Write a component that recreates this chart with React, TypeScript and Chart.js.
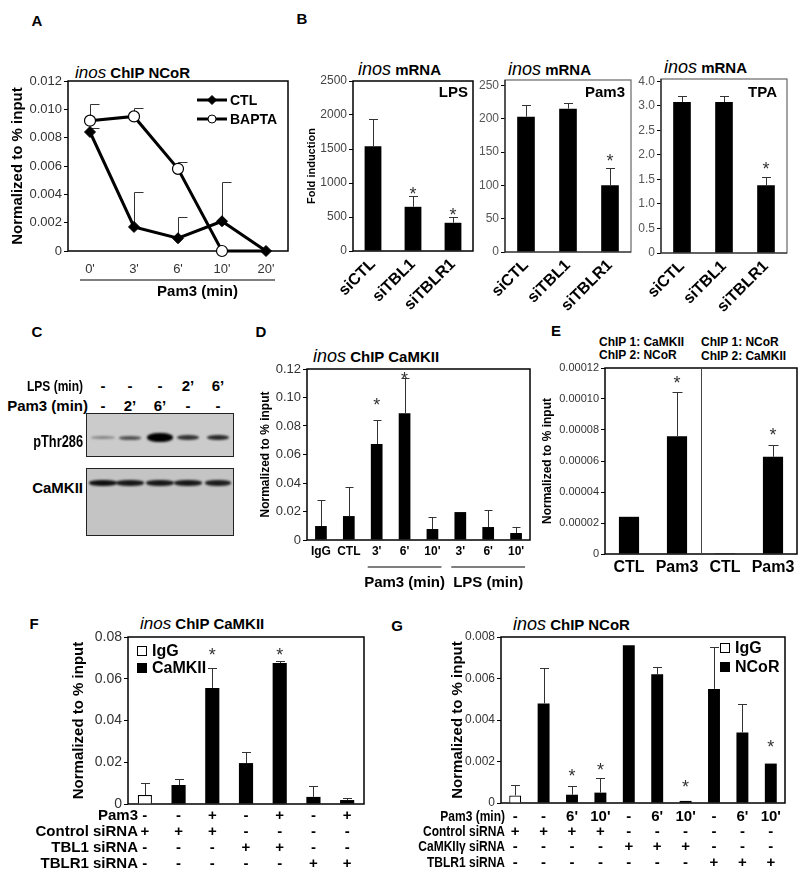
import React, { useEffect, useRef } from 'react';
import { Chart, registerables } from 'chart.js';

Chart.register(...registerables);

const FONT = '"Liberation Sans", Arial, Helvetica, sans-serif';

/* ================= DATA ================= */
const yTitleNorm = 'Normalized to % input';

// Panel A
const aTimes = ["0'", "3'", "6'", "10'", "20'"];
const aSeries = ['CTL', 'BAPTA'];
const aCTL = [0.0084, 0.0017, 0.0009, 0.0021, 0];
const aCTLErr = [0.0087, 0.0042, 0.0024, 0.0049, null];
const aBAPTA = [0.0092, 0.0095, 0.0058, 0, 0];
const aBAPTAErr = [0.0104, 0.0101, 0.0063, null, null];
const aYTicks = [0, 0.002, 0.004, 0.006, 0.008, 0.01, 0.012];
const aYTickLabels = ['0', '0.002', '0.004', '0.006', '0.008', '0.010', '0.012'];
const aXTitle = 'Pam3 (min)';

// Panel B
const bGroups = ['siCTL', 'siTBL1', 'siTBLR1'];
const bTags = ['LPS', 'Pam3', 'TPA'];
const bYTitle = 'Fold induction';
const bLPS = [1540, 650, 415];
const bLPSErr = [1940, 805, 500];
const bLPSStar = [null, 900, 585];
const bLPSTicks = [0, 500, 1000, 1500, 2000, 2500];
const bLPSTickLabels = ['0', '500', '1000', '1500', '2000', '2500'];
const bPam3 = [203, 215, 100];
const bPam3Err = [221, 223, 126];
const bPam3Star = [null, null, 143];
const bPam3Ticks = [0, 50, 100, 150, 200, 250];
const bPam3TickLabels = ['0', '50', '100', '150', '200', '250'];
const bTPA = [3.08, 3.08, 1.38];
const bTPAErr = [3.2, 3.2, 1.55];
const bTPAStar = [null, null, 1.8];
const bTPATicks = [0, 0.5, 1, 1.5, 2, 2.5, 3, 3.5];
const bTPATickLabels = ['0', '0.5', '1.0', '1.5', '2.0', '2.5', '3.0', '4.0'];

// Panel C (western blot)
const cRowLabels = ['LPS (min)', 'Pam3 (min)'];
const cLPS = ['-', '-', '-', '2’', '6’'];
const cPam3 = ['-', '2’', '6’', '-', '-'];
const cBlotLabels = ['pThr286', 'CaMKII'];
const cPThrIntensity = [0.35, 0.6, 1, 0.75, 0.8];
const cCaMKIIIntensity = [0.92, 0.88, 0.88, 0.88, 0.85];

// Panel D
const dLabels = ['IgG', 'CTL', "3'", "6'", "10'", "3'", "6'", "10'"];
const dValues = [0.0098, 0.0168, 0.0674, 0.089, 0.0077, 0.0196, 0.0091, 0.0049];
const dErr = [0.028, 0.037, 0.084, 0.1137, 0.0161, null, 0.021, 0.009];
const dStar = [null, null, 0.098, 0.116, null, null, null, null];
const dYTicks = [0, 0.02, 0.04, 0.06, 0.08, 0.1, 0.12];
const dYTickLabels = ['0', '0.02', '0.04', '0.06', '0.08', '0.10', '0.12'];
const dGroupLabels = ['Pam3 (min)', 'LPS (min)'];
const dGroupSpans = [[2, 4], [5, 7]];

// Panel E
const eLabels = ['CTL', 'Pam3', 'CTL', 'Pam3'];
const eHeaders = [['ChIP 1: CaMKII', 'ChIP 2: NCoR'], ['ChIP 1: NCoR', 'ChIP 2: CaMKII']];
const eValues = [0.000024, 0.000076, 0.0000005, 0.0000627];
const eErr = [null, 0.0001044, null, 0.0000703];
const eStar = [null, 0.000113, null, 0.0000796];
const eYTicks = [0, 0.00002, 0.00004, 0.00006, 0.00008, 0.0001, 0.00012];
const eYTickLabels = ['0', '0.00002', '0.00004', '0.00006', '0.00008', '0.00010', '0.00012'];

// Panel F
const fSeries = ['IgG', 'CaMKII'];
const fRowLabels = ['Pam3', 'Control siRNA', 'TBL1 siRNA', 'TBLR1 siRNA'];
const fPam3 = ['-', '-', '+', '-', '+', '-', '+'];
const fControl = ['+', '+', '+', '-', '-', '-', '-'];
const fTBL1 = ['-', '-', '-', '+', '+', '-', '-'];
const fTBLR1 = ['-', '-', '-', '-', '-', '+', '+'];
const fIgG = [0.0043, null, null, null, null, null, null];
const fCaMKII = [null, 0.0091, 0.0556, 0.0196, 0.0675, 0.0034, 0.0019];
const fIgGErr = [0.0101, null, null, null, null, null, null];
const fCaMKIIErr = [null, 0.012, 0.0651, 0.0249, 0.0685, 0.0086, 0.0029];
const fStar = [null, null, 0.0733, null, 0.0733, null, null];
const fYTicks = [0, 0.02, 0.04, 0.06, 0.08];
const fYTickLabels = ['0', '0.02', '0.04', '0.06', '0.08'];

// Panel G
const gSeries = ['IgG', 'NCoR'];
const gRowLabels = ['Pam3 (min)', 'Control siRNA', 'CaMKIIγ siRNA', 'TBLR1 siRNA'];
const gPam3 = ['-', '-', "6'", "10'", '-', "6'", "10'", '-', "6'", "10'"];
const gControl = ['+', '+', '+', '+', '-', '-', '-', '-', '-', '-'];
const gCaMKII = ['-', '-', '-', '-', '+', '+', '+', '-', '-', '-'];
const gTBLR1 = ['-', '-', '-', '-', '-', '-', '-', '+', '+', '+'];
const gIgG = [0.00036, null, null, null, null, null, null, null, null, null];
const gNCoR = [null, 0.0048, 0.0004, 0.0005, 0.0076, 0.0062, 0.0001, 0.0055, 0.0034, 0.0019];
const gIgGErr = [0.00087, null, null, null, null, null, null, null, null, null];
const gNCoRErr = [null, 0.0065, 0.0008, 0.0012, null, 0.00655, null, 0.0075, 0.00477, null];
const gStar = [null, null, 0.0015, 0.0018, null, null, 0.001, null, null, 0.0029];
const gYTicks = [0, 0.002, 0.004, 0.006, 0.008];
const gYTickLabels = ['0', '0.002', '0.004', '0.006', '0.008'];

/* ================= LAYOUT ================= */
type Rect = { l: number; t: number; r: number; b: number };
const LAY: Record<string, { canvas: Rect; plot: Rect }> = {
  a: { canvas: { l: 9, t: 70, r: 296, b: 305 }, plot: { l: 68, t: 81, r: 288, b: 251 } },
  b1: { canvas: { l: 305, t: 68, r: 478, b: 312 }, plot: { l: 353, t: 81, r: 473, b: 251 } },
  b2: { canvas: { l: 478, t: 68, r: 636, b: 312 }, plot: { l: 505, t: 80, r: 631, b: 252 } },
  b3: { canvas: { l: 636, t: 68, r: 795, b: 312 }, plot: { l: 661, t: 79, r: 787, b: 253 } },
  d: { canvas: { l: 258, t: 356, r: 534, b: 595 }, plot: { l: 307, t: 369, r: 530, b: 540 } },
  e: { canvas: { l: 540, t: 356, r: 800, b: 582 }, plot: { l: 605, t: 368, r: 797, b: 554 } },
  f: { canvas: { l: 25, t: 626, r: 372, b: 882 }, plot: { l: 128, t: 637, r: 364, b: 804 } },
  g: { canvas: { l: 395, t: 626, r: 798, b: 882 }, plot: { l: 501, t: 637, r: 785, b: 803 } },
};

function geometry(key: string) {
  const { canvas, plot } = LAY[key];
  return {
    padding: { left: 0, top: plot.t - canvas.t, right: canvas.r - plot.r, bottom: 0 },
    yW: plot.l - canvas.l,
    xH: canvas.b - plot.b,
  };
}

/* ================= HELPERS ================= */
function baseOptions(padding: any, scales: any) {
  return {
    responsive: false,
    maintainAspectRatio: false,
    animation: false,
    events: [],
    layout: { padding },
    plugins: { legend: { display: false }, tooltip: { enabled: false }, title: { display: false } },
    scales,
  };
}

function yAxis(o: any) {
  return {
    type: 'linear',
    position: 'left',
    min: 0,
    max: o.max,
    afterBuildTicks: (s: any) => {
      s.ticks = o.ticks.map((v: number) => ({ value: v }));
    },
    afterFit: (s: any) => {
      s.width = o.yW;
    },
    grid: { display: true, drawOnChartArea: false, drawTicks: true, tickLength: 4, color: '#000', lineWidth: 1 },
    border: { display: false },
    ticks: {
      callback: (_v: any, i: number) => o.labels[i],
      font: { family: FONT, size: o.size },
      color: o.color || '#333',
      padding: 2,
    },
    title: o.title
      ? {
          display: true,
          text: o.title,
          color: '#000',
          font: { family: FONT, size: o.titleSize, weight: 'bold' },
          padding: { top: o.titlePad || 0, bottom: 0 },
        }
      : { display: false },
  };
}

function xAxis(o: any) {
  return {
    type: 'category',
    offset: true,
    afterFit: (s: any) => {
      s.height = o.xH;
    },
    grid: { display: false, drawTicks: false },
    border: { display: false },
    ticks: {
      autoSkip: false,
      maxRotation: o.rotation || 0,
      minRotation: o.rotation || 0,
      padding: o.padding,
      color: o.color || '#000',
      font: { family: FONT, size: o.size, weight: o.weight || 'normal', lineHeight: o.lineHeight || 1.2 },
    },
  };
}

function barDs(label: string, data: any[], fill = '#000', bw = 0) {
  return {
    label,
    data,
    backgroundColor: fill,
    borderColor: '#000',
    borderWidth: bw,
    barPercentage: 0.42,
    categoryPercentage: 1,
    grouped: false,
  };
}

const framePlugin = (color: string, width: number, axisColor?: string) => ({
  id: 'frame',
  beforeDatasetsDraw(chart: any) {
    const { ctx, chartArea: a } = chart;
    ctx.save();
    ctx.lineWidth = width;
    ctx.strokeStyle = color;
    ctx.strokeRect(a.left, a.top, a.right - a.left, a.bottom - a.top);
    if (axisColor) {
      ctx.strokeStyle = axisColor;
      ctx.beginPath();
      ctx.moveTo(a.left, a.top);
      ctx.lineTo(a.left, a.bottom);
      ctx.lineTo(a.right, a.bottom);
      ctx.stroke();
    }
    ctx.restore();
  },
});

const errorPlugin = (sets: any[][], capL: number, capR: number, before = false) => {
  const draw = (chart: any) => {
    const { ctx } = chart;
    const ys = chart.scales.y;
    ctx.save();
    ctx.strokeStyle = '#333';
    ctx.lineWidth = 1;
    sets.forEach((errs, di) => {
      const meta = chart.getDatasetMeta(di);
      const data = chart.data.datasets[di].data;
      errs.forEach((e: any, j: number) => {
        if (e == null || data[j] == null) return;
        const el = meta.data[j];
        const x = Math.round(el.x) + 0.5;
        const y0 = ys.getPixelForValue(data[j]);
        const y1 = Math.round(ys.getPixelForValue(e)) + 0.5;
        ctx.beginPath();
        ctx.moveTo(x, y0);
        ctx.lineTo(x, y1);
        ctx.moveTo(x - capL, y1);
        ctx.lineTo(x + capR, y1);
        ctx.stroke();
      });
    });
    ctx.restore();
  };
  return before ? { id: 'err', beforeDatasetsDraw: draw } : { id: 'err', afterDatasetsDraw: draw };
};

const starPlugin = (stars: any[], size = 18) => ({
  id: 'stars',
  afterDraw(chart: any) {
    const { ctx } = chart;
    const xs = chart.scales.x;
    const ys = chart.scales.y;
    ctx.save();
    ctx.fillStyle = '#333';
    ctx.font = `${size}px ${FONT}`;
    ctx.textAlign = 'center';
    ctx.textBaseline = 'alphabetic';
    stars.forEach((s, j) => {
      if (s == null) return;
      ctx.fillText('*', xs.getPixelForValue(j), ys.getPixelForValue(s) + size * 0.57);
    });
    ctx.restore();
  },
});

const tagPlugin = (text: string, dx: number, dy: number) => ({
  id: 'tag',
  afterDraw(chart: any) {
    const { ctx, chartArea: a } = chart;
    ctx.save();
    ctx.fillStyle = '#000';
    ctx.font = `bold 15px ${FONT}`;
    ctx.textAlign = 'right';
    ctx.textBaseline = 'middle';
    ctx.fillText(text, a.right - dx, a.top + dy);
    ctx.restore();
  },
});

const boxLegend = (xOf: (a: any) => number, y0: number, dy: number) => ({
  id: 'boxLegend',
  afterDraw(chart: any) {
    const { ctx, chartArea: a } = chart;
    ctx.save();
    chart.data.datasets.forEach((ds: any, i: number) => {
      const sx = Math.round(xOf(a));
      const y = Math.round(a.top + y0 + i * dy);
      ctx.fillStyle = ds.backgroundColor;
      ctx.fillRect(sx, y - 5, 10, 10);
      ctx.strokeStyle = '#000';
      ctx.lineWidth = 1;
      ctx.strokeRect(sx + 0.5, y - 4.5, 9, 9);
      ctx.fillStyle = '#000';
      ctx.font = `bold 16px ${FONT}`;
      ctx.textAlign = 'left';
      ctx.textBaseline = 'middle';
      ctx.fillText(ds.label, sx + 15, y + 1);
    });
    ctx.restore();
  },
});

const rowLabelPlugin = (labels: string[], dx: number, pad: number, lh: number, sx = 1) => ({
  id: 'rowLabels',
  afterDraw(chart: any) {
    const { ctx, chartArea: a } = chart;
    ctx.save();
    ctx.fillStyle = '#000';
    ctx.font = `bold 15px ${FONT}`;
    ctx.textAlign = 'right';
    ctx.textBaseline = 'middle';
    labels.forEach((t, i) => {
      const y = a.bottom + pad + lh / 2 + i * lh;
      ctx.save();
      ctx.translate(a.left + dx, y);
      ctx.scale(sx, 1);
      ctx.fillText(t, 0, 0);
      ctx.restore();
    });
    ctx.restore();
  },
});

/* ================= CHART CONFIGS ================= */
function configA() {
  const g = geometry('a');
  const legendA = {
    id: 'legendA',
    afterDraw(chart: any) {
      const { ctx, chartArea: a } = chart;
      ctx.save();
      chart.data.datasets.forEach((ds: any, i: number) => {
        const y = a.top + 19 + i * 19;
        const x0 = a.right - 91;
        const x1 = a.right - 61;
        const xm = (x0 + x1) / 2;
        ctx.strokeStyle = '#000';
        ctx.lineWidth = 3;
        ctx.beginPath();
        ctx.moveTo(x0, y);
        ctx.lineTo(x1, y);
        ctx.stroke();
        ctx.lineWidth = 1;
        ctx.beginPath();
        if (ds.pointStyle === 'rectRot') {
          ctx.moveTo(xm, y - 4.5);
          ctx.lineTo(xm + 4.5, y);
          ctx.lineTo(xm, y + 4.5);
          ctx.lineTo(xm - 4.5, y);
          ctx.closePath();
          ctx.fillStyle = '#000';
        } else {
          ctx.arc(xm, y, 4, 0, Math.PI * 2);
          ctx.fillStyle = '#fff';
        }
        ctx.fill();
        ctx.stroke();
        ctx.fillStyle = '#000';
        ctx.font = `bold 14px ${FONT}`;
        ctx.textAlign = 'left';
        ctx.textBaseline = 'middle';
        ctx.fillText(ds.label, a.right - 58, y + 1);
      });
      ctx.restore();
    },
  };
  const axisNoteA = {
    id: 'axisNoteA',
    afterDraw(chart: any) {
      const { ctx, chartArea: a } = chart;
      const xs = chart.scales.x;
      const x0 = xs.getPixelForValue(0) - 10;
      const x1 = xs.getPixelForValue(aTimes.length - 1) + 9;
      ctx.save();
      ctx.strokeStyle = '#000';
      ctx.lineWidth = 1.2;
      ctx.beginPath();
      ctx.moveTo(x0, a.bottom + 29);
      ctx.lineTo(x1, a.bottom + 29);
      ctx.stroke();
      ctx.fillStyle = '#000';
      ctx.font = `bold 15px ${FONT}`;
      ctx.textAlign = 'center';
      ctx.textBaseline = 'middle';
      ctx.fillText(aXTitle, (x0 + x1) / 2 + 20, a.bottom + 41);
      ctx.restore();
    },
  };
  return {
    type: 'line',
    data: {
      labels: aTimes,
      datasets: [
        {
          label: aSeries[0], data: aCTL, borderColor: '#000', borderWidth: 3, pointStyle: 'rectRot',
          pointRadius: 5.5, pointBackgroundColor: '#000', pointBorderColor: '#000', pointBorderWidth: 1, clip: false, tension: 0,
        },
        {
          label: aSeries[1], data: aBAPTA, borderColor: '#000', borderWidth: 3, pointStyle: 'circle',
          pointRadius: [5.5, 5.5, 5.5, 5.5, 0], pointBackgroundColor: '#fff', pointBorderColor: '#000', pointBorderWidth: 1.2, clip: false, tension: 0,
        },
      ],
    },
    options: baseOptions(g.padding, {
      x: xAxis({ xH: g.xH, size: 13, padding: 11, color: '#333' }),
      y: yAxis({ yW: g.yW, ticks: aYTicks, labels: aYTickLabels, max: 0.012, size: 13, title: yTitleNorm, titleSize: 15 }),
    }),
    plugins: [framePlugin('#000', 1.5), errorPlugin([aCTLErr, aBAPTAErr], 0, 9, true), legendA, axisNoteA],
  };
}

function configB(key: string, o: any) {
  const g = geometry(key);
  return {
    type: 'bar',
    data: { labels: bGroups, datasets: [barDs(o.tag, o.values)] },
    options: baseOptions(g.padding, {
      x: xAxis({ xH: g.xH, size: 16, weight: 'bold', padding: 4, rotation: 45 }),
      y: yAxis({
        yW: g.yW, ticks: o.ticks, labels: o.labels, max: o.max, size: 12, color: o.tickColor,
        title: o.title, titleSize: 11,
      }),
    }),
    plugins: [
      framePlugin(o.frame, o.frameW, o.axisColor),
      errorPlugin([o.errs], 4.5, 4.5),
      starPlugin(o.stars),
      tagPlugin(o.tag, o.tagDx, o.tagDy),
    ],
  };
}

function configD() {
  const g = geometry('d');
  const groupsD = {
    id: 'groupsD',
    afterDraw(chart: any) {
      const { ctx, chartArea: a } = chart;
      const xs = chart.scales.x;
      ctx.save();
      dGroupLabels.forEach((label, i) => {
        const [from, to] = dGroupSpans[i];
        const x0 = xs.getPixelForValue(from) - 9;
        const x1 = xs.getPixelForValue(to) + 9;
        ctx.strokeStyle = '#000';
        ctx.lineWidth = 1.2;
        ctx.beginPath();
        ctx.moveTo(x0, a.bottom + 27);
        ctx.lineTo(x1, a.bottom + 27);
        ctx.stroke();
        ctx.fillStyle = '#000';
        ctx.font = `bold 15px ${FONT}`;
        ctx.textAlign = 'center';
        ctx.textBaseline = 'middle';
        ctx.fillText(label, (x0 + x1) / 2, a.bottom + 43);
      });
      ctx.restore();
    },
  };
  return {
    type: 'bar',
    data: { labels: dLabels, datasets: [barDs('CaMKII', dValues)] },
    options: baseOptions(g.padding, {
      x: xAxis({ xH: g.xH, size: 12, weight: 'bold', padding: 4 }),
      y: yAxis({ yW: g.yW, ticks: dYTicks, labels: dYTickLabels, max: 0.12, size: 13, title: yTitleNorm, titleSize: 12 }),
    }),
    plugins: [framePlugin('#000', 1.5), errorPlugin([dErr], 4, 4), starPlugin(dStar), groupsD],
  };
}

function configE() {
  const g = geometry('e');
  const divider = {
    id: 'divider',
    beforeDatasetsDraw(chart: any) {
      const { ctx, chartArea: a } = chart;
      const xs = chart.scales.x;
      const x = Math.round((xs.getPixelForValue(1) + xs.getPixelForValue(2)) / 2) + 0.5;
      ctx.save();
      ctx.strokeStyle = '#444';
      ctx.lineWidth = 1;
      ctx.beginPath();
      ctx.moveTo(x, a.top);
      ctx.lineTo(x, a.bottom);
      ctx.stroke();
      ctx.restore();
    },
  };
  return {
    type: 'bar',
    data: { labels: eLabels, datasets: [barDs('ChIP', eValues)] },
    options: baseOptions(g.padding, {
      x: xAxis({ xH: g.xH, size: 16, weight: 'bold', padding: 4 }),
      y: yAxis({ yW: g.yW, ticks: eYTicks, labels: eYTickLabels, max: 0.00012, size: 11, title: yTitleNorm, titleSize: 12 }),
    }),
    plugins: [framePlugin('#000', 1.5), divider, errorPlugin([eErr], 5, 5), starPlugin(eStar)],
  };
}

function configF() {
  const g = geometry('f');
  const lh = 16;
  return {
    type: 'bar',
    data: {
      labels: fPam3.map((_, i) => [fPam3[i], fControl[i], fTBL1[i], fTBLR1[i]]),
      datasets: [barDs(fSeries[0], fIgG, '#fff', 1.2), barDs(fSeries[1], fCaMKII)],
    },
    options: baseOptions(g.padding, {
      x: xAxis({ xH: g.xH, size: 15, weight: 'bold', padding: 4, lineHeight: lh / 15 }),
      y: yAxis({
        yW: g.yW, ticks: fYTicks, labels: fYTickLabels, max: 0.08, size: 14,
        title: yTitleNorm, titleSize: 15, titlePad: 45,
      }),
    }),
    plugins: [
      framePlugin('#000', 1.5),
      errorPlugin([fIgGErr, fCaMKIIErr], 4.5, 4.5),
      starPlugin(fStar),
      boxLegend((a: any) => a.left + 9, 14, 17),
      rowLabelPlugin(fRowLabels, 10, 4, lh),
    ],
  };
}

function configG() {
  const g = geometry('g');
  const lh = 15.3;
  return {
    type: 'bar',
    data: {
      labels: gPam3.map((_, i) => [gPam3[i], gControl[i], gCaMKII[i], gTBLR1[i]]),
      datasets: [barDs(gSeries[0], gIgG, '#fff', 1.2), barDs(gSeries[1], gNCoR)],
    },
    options: baseOptions(g.padding, {
      x: xAxis({ xH: g.xH, size: 15, weight: 'bold', padding: 6, lineHeight: lh / 15 }),
      y: yAxis({
        yW: g.yW, ticks: gYTicks, labels: gYTickLabels, max: 0.008, size: 12,
        title: yTitleNorm, titleSize: 15, titlePad: 54,
      }),
    }),
    plugins: [
      framePlugin('#000', 1.5),
      errorPlugin([gIgGErr, gNCoRErr], 4.5, 4.5),
      starPlugin(gStar),
      boxLegend((a: any) => a.right - 65, 11, 19),
      rowLabelPlugin(gRowLabels, 4, 6, lh, 0.8),
    ],
  };
}

/* ================= COMPONENTS ================= */
function ChartCanvas({ k, make }: { k: string; make: () => any }) {
  const ref = useRef<HTMLCanvasElement>(null);
  const c = LAY[k].canvas;
  const w = c.r - c.l;
  const h = c.b - c.t;
  useEffect(() => {
    const chart = new Chart(ref.current as HTMLCanvasElement, make());
    return () => chart.destroy();
  }, []);
  return (
    <div style={{ position: 'absolute', left: c.l, top: c.t, width: w, height: h }}>
      <canvas ref={ref} width={w} height={h} style={{ width: w, height: h, display: 'block' }} />
    </div>
  );
}

function T({ x, y, align = 'left', size = 15, weight = 700, sx = 1, children }: any) {
  const tx = align === 'left' ? '0' : align === 'center' ? '-50%' : '-100%';
  const origin = align === 'left' ? 'left center' : align === 'center' ? 'center center' : 'right center';
  return (
    <div
      style={{
        position: 'absolute', left: x, top: y, transform: `translate(${tx}, -50%)`,
        fontFamily: FONT, fontSize: size, fontWeight: weight, lineHeight: 1, whiteSpace: 'nowrap', color: '#000',
      }}
    >
      <div style={{ transform: sx !== 1 ? `scaleX(${sx})` : undefined, transformOrigin: origin }}>{children}</div>
    </div>
  );
}

function PTitle({ x, y, rest, it = 18 }: any) {
  return (
    <div style={{ position: 'absolute', left: x, top: y, transform: 'translateY(-50%)', fontFamily: FONT, lineHeight: 1, whiteSpace: 'nowrap', color: '#000' }}>
      <span style={{ fontStyle: 'italic', fontSize: it, fontWeight: 400 }}>inos</span>
      <span style={{ fontSize: 15, fontWeight: 700 }}> {rest}</span>
    </div>
  );
}

const cLanes = [103, 130, 160, 188, 218];

function Blot({ left, top, width, height, bg, bandY, intens, bw, bh }: any) {
  return (
    <div style={{ position: 'absolute', left, top, width, height, background: bg, border: '1.5px solid #222', boxSizing: 'border-box', overflow: 'hidden' }}>
      {cLanes.map((lx, i) => (
        <div
          key={i}
          style={{
            position: 'absolute', left: lx - left - bw[i] / 2 - 1.5, top: bandY - top - bh[i] / 2 - 1.5,
            width: bw[i], height: bh[i], background: '#000', borderRadius: '45%', opacity: intens[i], filter: 'blur(1px)',
          }}
        />
      ))}
    </div>
  );
}

export default function App() {
  return (
    <div style={{ position: 'absolute', left: 0, top: 0, width: 800, height: 885, background: '#fff', overflow: 'hidden' }}>
      {/* panel letters */}
      <T x={37} y={20} align="center">A</T>
      <T x={302} y={18} align="center">B</T>
      <T x={37} y={331} align="center">C</T>
      <T x={261} y={331} align="center">D</T>
      <T x={556} y={330} align="center">E</T>
      <T x={34} y={623} align="center">F</T>
      <T x={397} y={625} align="center">G</T>

      {/* titles */}
      <PTitle x={75} y={72} rest="ChIP NCoR" it={17} />
      <PTitle x={358} y={69} rest="mRNA" />
      <PTitle x={508} y={69} rest="mRNA" />
      <PTitle x={664} y={67} rest="mRNA" />
      <PTitle x={313} y={356} rest="ChIP CaMKII" />
      <PTitle x={140} y={623} rest="ChIP CaMKII" it={17} />
      <PTitle x={513} y={624} rest="ChIP NCoR" />

      {/* E headers */}
      <T x={599} y={342} size={12}>{eHeaders[0][0]}</T>
      <T x={599} y={355} size={12}>{eHeaders[0][1]}</T>
      <T x={701} y={342} size={12}>{eHeaders[1][0]}</T>
      <T x={701} y={356} size={12}>{eHeaders[1][1]}</T>

      {/* Panel C blot */}
      <T x={83} y={385} align="right" sx={0.8}>{cRowLabels[0]}</T>
      <T x={88} y={405} align="right">{cRowLabels[1]}</T>
      {cLanes.map((lx, i) => (
        <React.Fragment key={i}>
          <T x={lx} y={385} align="center">{cLPS[i]}</T>
          <T x={lx} y={405} align="center">{cPam3[i]}</T>
        </React.Fragment>
      ))}
      <Blot left={86} top={413} width={148} height={44} bg="#cbcbcb" bandY={438} intens={cPThrIntensity} bw={[24, 22, 26, 22, 22]} bh={[3, 4, 9, 5, 5]} />
      <Blot left={86} top={468} width={148} height={68} bg="#c4c4c4" bandY={483} intens={cCaMKIIIntensity} bw={[28, 28, 28, 28, 26]} bh={[6, 6, 6, 6, 6]} />
      <T x={83} y={442} align="right" size={16} sx={0.8}>{cBlotLabels[0]}</T>
      <T x={83} y={487} align="right" size={15}>{cBlotLabels[1]}</T>

      {/* charts */}
      <ChartCanvas k="a" make={configA} />
      <ChartCanvas
        k="b1"
        make={() =>
          configB('b1', {
            tag: bTags[0], values: bLPS, errs: bLPSErr, stars: bLPSStar, ticks: bLPSTicks, labels: bLPSTickLabels,
            max: 2500, title: bYTitle, frame: '#000', frameW: 1.5, tagDx: 5, tagDy: 12, tickColor: '#444',
          })
        }
      />
      <ChartCanvas
        k="b2"
        make={() =>
          configB('b2', {
            tag: bTags[1], values: bPam3, errs: bPam3Err, stars: bPam3Star, ticks: bPam3Ticks, labels: bPam3TickLabels,
            max: 258, frame: '#666', frameW: 1.2, axisColor: '#222', tagDx: 6, tagDy: 13, tickColor: '#555',
          })
        }
      />
      <ChartCanvas
        k="b3"
        make={() =>
          configB('b3', {
            tag: bTags[2], values: bTPA, errs: bTPAErr, stars: bTPAStar, ticks: bTPATicks, labels: bTPATickLabels,
            max: 3.55, frame: '#666', frameW: 1.2, axisColor: '#222', tagDx: 10, tagDy: 14, tickColor: '#555',
          })
        }
      />
      <ChartCanvas k="d" make={configD} />
      <ChartCanvas k="e" make={configE} />
      <ChartCanvas k="f" make={configF} />
      <ChartCanvas k="g" make={configG} />
    </div>
  );
}
